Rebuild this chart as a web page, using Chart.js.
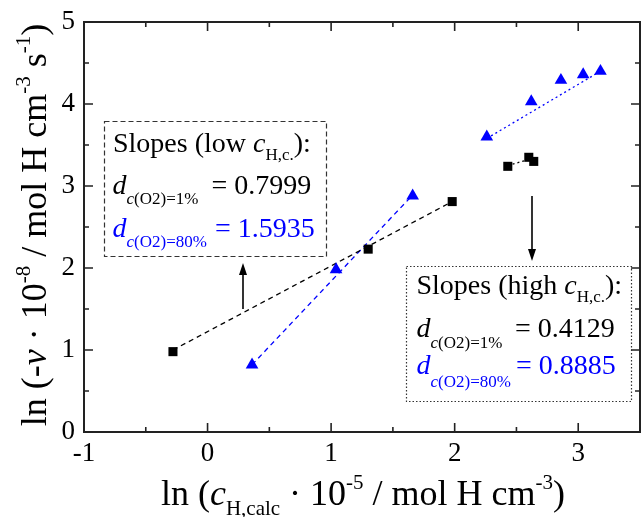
<!DOCTYPE html>
<html>
<head>
<meta charset="utf-8">
<script src="https://cdn.jsdelivr.net/npm/chart.js@4"></script>
<style>
  body { margin: 0; background: #fff; }
  canvas { display: block; }
</style>
</head>
<body>
<canvas id="c" width="641" height="517"></canvas>
<script>
// values
const xTicks = [-1, 0, 1, 2, 3];
const yTicks = [0, 1, 2, 3, 4, 5];

const lowX1 = [-0.28, 1.30, 1.98];          // c(O2)=1%, black squares
const lowY1 = [0.98, 2.23, 2.81];
const highX1 = [2.43, 2.60, 2.64];
const highY1 = [3.24, 3.35, 3.30];

const lowX80 = [0.36, 1.04, 1.66];          // c(O2)=80%, blue triangles
const lowY80 = [0.82, 1.98, 2.88];
const highX80 = [2.26, 2.62, 2.86, 3.04, 3.18];
const highY80 = [3.60, 4.03, 4.29, 4.36, 4.40];

// fitted lines (end points)
const fitLowX1 = [-0.28, 1.98], fitLowY1 = [1.00, 2.81];
const fitLowX80 = [0.36, 1.66], fitLowY80 = [0.82, 2.89];
const fitHighX1 = [2.43, 2.64], fitHighY1 = [3.25, 3.34];
const fitHighX80 = [2.26, 3.18], fitHighY80 = [3.58, 4.40];

const pts = (xs, ys) => xs.map((x, i) => ({ x, y: ys[i] }));
const BLUE = '#0000ff';
const SERIF = '"Liberation Serif", "Times New Roman", serif';

function rich(ctx, x, y, parts) {
  parts.forEach(p => {
    ctx.font = (p.it ? 'italic ' : '') + p.size + 'px ' + SERIF;
    ctx.fillStyle = p.color || '#000';
    ctx.fillText(p.t, x, y + (p.dy || 0));
    x += ctx.measureText(p.t).width;
  });
  return x;
}
function richWidth(ctx, parts) {
  let w = 0;
  parts.forEach(p => {
    ctx.font = (p.it ? 'italic ' : '') + p.size + 'px ' + SERIF;
    w += ctx.measureText(p.t).width;
  });
  return w;
}
function arrow(ctx, x, y0, y1) {
  const dir = y1 < y0 ? 1 : -1;
  ctx.beginPath();
  ctx.moveTo(x, y0);
  ctx.lineTo(x, y1 + dir * 8);
  ctx.stroke();
  ctx.beginPath();
  ctx.moveTo(x, y1);
  ctx.lineTo(x - 4, y1 + dir * 12);
  ctx.lineTo(x + 4, y1 + dir * 12);
  ctx.closePath();
  ctx.fill();
}
// "d" with a c(O2)=.. subscript, then the value at a fixed x
function slopeLine(ctx, x, y, sub, subDy, valX, val, color) {
  rich(ctx, x, y, [{ t: 'd', size: 28, it: true, color },
    { t: 'c', size: 17, it: true, dy: subDy, color }, { t: sub, size: 17, dy: subDy, color }]);
  rich(ctx, valX, y, [{ t: '= ' + val, size: 28, color }]);
}

const decor = {
  id: 'decor',
  afterDraw(chart) {
    const { ctx, chartArea: a, scales: { x, y } } = chart;
    ctx.save();
    ctx.strokeStyle = '#222';
    ctx.fillStyle = '#000';
    ctx.lineWidth = 2;
    ctx.strokeRect(a.left, a.top, a.right - a.left, a.bottom - a.top);

    // inward ticks on all four sides
    ctx.lineWidth = 1.6;
    ctx.beginPath();
    for (let v = -1; v <= 3.5; v += 0.5) {
      const px = x.getPixelForValue(v);
      const len = Number.isInteger(v) ? 9 : 5;
      ctx.moveTo(px, a.bottom); ctx.lineTo(px, a.bottom - len);
      ctx.moveTo(px, a.top); ctx.lineTo(px, a.top + len);
    }
    for (let v = 0; v <= 5; v += 0.5) {
      const py = y.getPixelForValue(v);
      const len = Number.isInteger(v) ? 9 : 5;
      ctx.moveTo(a.left, py); ctx.lineTo(a.left + len, py);
      ctx.moveTo(a.right, py); ctx.lineTo(a.right - len, py);
    }
    ctx.stroke();

    // annotation boxes
    ctx.lineWidth = 1.2;
    ctx.strokeStyle = '#333';
    ctx.setLineDash([5, 3]);
    ctx.strokeRect(104.5, 121.5, 222, 135);
    ctx.setLineDash([1.5, 2]);
    ctx.strokeRect(406.5, 266.5, 225, 135);
    ctx.setLineDash([]);

    ctx.strokeStyle = '#000';
    ctx.lineWidth = 1.6;
    arrow(ctx, 243, 309, 263);
    arrow(ctx, 532, 196, 261);

    ctx.textAlign = 'left';
    ctx.textBaseline = 'alphabetic';
    rich(ctx, 113, 151.5, [
      { t: 'Slopes (low ', size: 28 }, { t: 'c', size: 28, it: true },
      { t: 'H,c.', size: 17, dy: 8 }, { t: '):', size: 28 }]);
    slopeLine(ctx, 112.5, 193.5, '(O2)=1%', 10, 211.5, '0.7999', '#000');
    slopeLine(ctx, 112.5, 236.5, '(O2)=80%', 10, 215, '1.5935', BLUE);

    rich(ctx, 416.5, 293.5, [
      { t: 'Slopes (high ', size: 28 }, { t: 'c', size: 28, it: true },
      { t: 'H,c.', size: 17, dy: 8 }, { t: '):', size: 28 }]);
    slopeLine(ctx, 416.5, 336.5, '(O2)=1%', 11, 515, '0.4129', '#000');
    slopeLine(ctx, 416.5, 373.5, '(O2)=80%', 13, 516, '0.8885', BLUE);

    // axis titles
    const T = 36, U = 21;
    const xt = [
      { t: 'ln (', size: T }, { t: 'c', size: T, it: true },
      { t: 'H,calc', size: U, dy: 10 }, { t: ' \u00b7 10', size: T },
      { t: '-5', size: U, dy: -16 }, { t: ' / mol H cm', size: T },
      { t: '-3', size: U, dy: -16 }, { t: ')', size: T }];
    rich(ctx, 363 - richWidth(ctx, xt) / 2, 505, xt);

    const yt = [
      { t: 'ln (-', size: T }, { t: '\u03bd', size: T, it: true },
      { t: ' \u00b7 10', size: T }, { t: '-8', size: U, dy: -16 },
      { t: ' / mol H cm', size: T }, { t: '-3', size: U, dy: -16 },
      { t: ' s', size: T }, { t: '-1', size: U, dy: -16 }, { t: ')', size: T }];
    ctx.translate(46, 225);
    ctx.rotate(-Math.PI / 2);
    rich(ctx, -richWidth(ctx, yt) / 2, 0, yt);
    ctx.restore();
  }
};

const fitLine = (xs, ys, color, dash) => ({
  type: 'line', data: pts(xs, ys), borderColor: color, borderWidth: 1.3,
  borderDash: dash, pointRadius: 0, fill: false, order: 2
});
const marks = (xs, ys, color, style) => ({
  type: 'scatter', data: pts(xs, ys), backgroundColor: color, borderColor: color,
  pointStyle: style, pointRadius: style === 'rect' ? 6.4 : 7.3, borderWidth: 0, order: 1
});

new Chart(document.getElementById('c'), {
  type: 'scatter',
  data: {
    datasets: [
      fitLine(fitLowX1, fitLowY1, '#000', [5, 4]),
      fitLine(fitLowX80, fitLowY80, BLUE, [5, 4]),
      fitLine(fitHighX1, fitHighY1, '#000', [2, 3]),
      fitLine(fitHighX80, fitHighY80, BLUE, [2, 3]),
      marks(lowX1, lowY1, '#000', 'rect'),
      marks(highX1, highY1, '#000', 'rect'),
      marks(lowX80, lowY80, BLUE, 'triangle'),
      marks(highX80, highY80, BLUE, 'triangle')
    ]
  },
  options: {
    responsive: false,
    animation: false,
    devicePixelRatio: 1,
    layout: { autoPadding: false, padding: { top: 22, right: 1, left: 0, bottom: 0 } },
    plugins: { legend: { display: false }, tooltip: { enabled: false } },
    scales: {
      x: {
        type: 'linear', min: -1, max: 3.5,
        afterBuildTicks: s => { s.ticks = xTicks.map(v => ({ value: v })); },
        afterFit: s => { s.height = 85; s.paddingLeft = 0; s.paddingRight = 0; },
        grid: { display: false, drawTicks: false }, border: { display: false },
        ticks: { color: '#000', padding: 6, font: { family: SERIF, size: 27 } }
      },
      y: {
        type: 'linear', min: 0, max: 5,
        afterBuildTicks: s => { s.ticks = yTicks.map(v => ({ value: v })); },
        afterFit: s => { s.width = 84; s.paddingTop = 0; s.paddingBottom = 0; },
        grid: { display: false, drawTicks: false }, border: { display: false },
        ticks: { color: '#000', padding: 9, font: { family: SERIF, size: 27 } }
      }
    }
  },
  plugins: [decor]
});
</script>
</body>
</html>
